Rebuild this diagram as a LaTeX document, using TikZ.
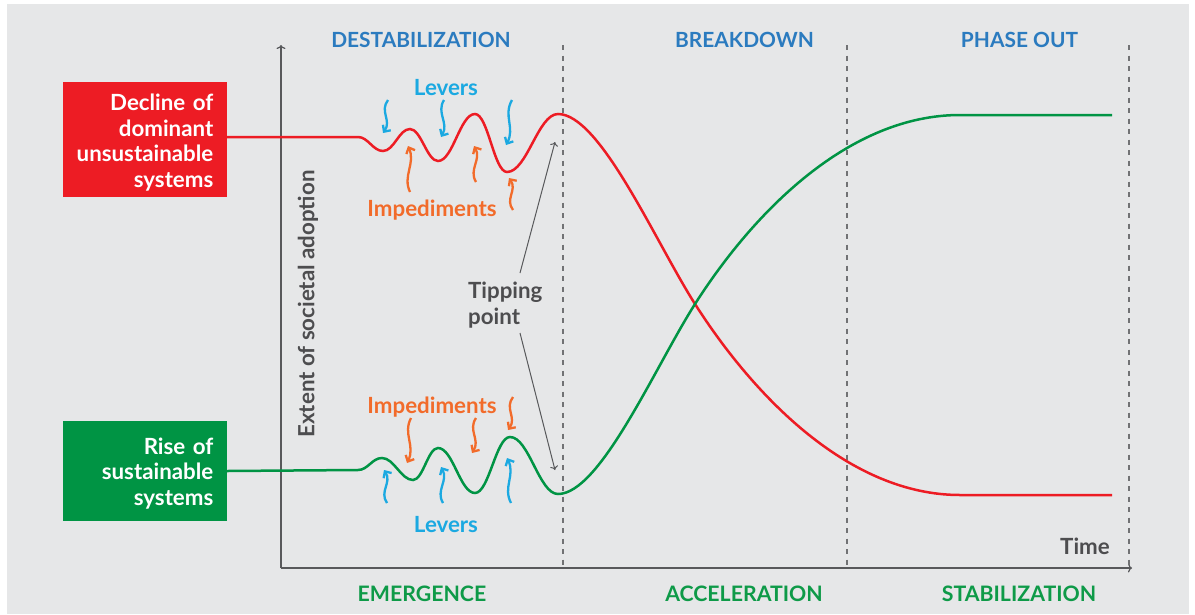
\documentclass[tikz,border=0pt]{standalone}
\usepackage{fontspec}
\setmainfont{Lato}
\usetikzlibrary{arrows.meta,calc}
\definecolor{bg}{HTML}{E6E7E8}
\definecolor{cred}{HTML}{ED1C24}
\definecolor{cgreen}{HTML}{009444}
\definecolor{hblue}{HTML}{2B7BBF}
\definecolor{bgreen}{HTML}{0E9A48}
\definecolor{lblue}{HTML}{1BA9E1}
\definecolor{orng}{HTML}{F26B2A}
\definecolor{txtgray}{HTML}{4D4D4F}
\definecolor{axgray}{HTML}{58595B}
\newcommand\wv[5]{\draw[wavyarrow,#1] (#2,#3) .. controls ($(#2,#3)!0.35!(#4,#5)+(-7,0)$) and ($(#2,#3)!0.62!(#4,#5)+(7,0)$) .. (#4,#5);}
\begin{document}
\begin{tikzpicture}[x=1pt,y=-1pt,
  font=\bfseries\fontsize{22.3}{25.5}\selectfont,
  sysbox/.style={minimum width=164pt,inner sep=0pt,anchor=center},
  systext/.style={inner sep=0pt,text width=140pt,align=right,text=white,anchor=east},
  curve/.style={line width=2.5pt},
  axis/.style={draw=axgray,line width=1.2pt,-{To[length=4pt,width=9pt]}},
  phase/.style={draw=axgray!85,line width=1.2pt,dash pattern=on 5pt off 5.5pt},
  header/.style={text=hblue,font=\bfseries\fontsize{20.9}{25}\selectfont},
  footer/.style={text=bgreen,font=\bfseries\fontsize{21.3}{25}\selectfont},
  wavyarrow/.style={line width=2.3pt,-{Straight Barb[length=5pt,width=9.5pt]}},
  tiparrow/.style={draw=axgray,line width=1pt,-{To[length=4pt,width=8pt]}}
]
\useasboundingbox (0,0) rectangle (1195,614);
\fill[bg] (7,4) rectangle (1189,614);

% axes
\coordinate (origin) at (281,568);
\coordinate (ytop) at (281,45);
\coordinate (xend) at (1132,568);
\draw[axis] (origin) -- (ytop);
\draw[axis] (origin) -- (xend);

% phase separators
\foreach \px/\nm in {563/pa,847/pb,1129/pc}{
  \coordinate (\nm t) at (\px,45);
  \coordinate (\nm b) at (\px,565);
  \draw[phase] (\nm t) -- (\nm b);
}

% boxes
\node[sysbox,fill=cred,minimum height=115pt] (redbox) at (145,139.5) {};
\node[systext] (redtxt) at (213.5,142.5) {Decline of\\dominant\\unsustainable\\systems};
\node[sysbox,fill=cgreen,minimum height=100pt] (greenbox) at (145,471) {};
\node[systext] (greentxt) at (213.5,473.5) {Rise of\\sustainable\\systems};
\coordinate (rs) at (0,137);
\coordinate (gs) at (0,471);

% red curve
\draw[curve,cred] (redbox.east |- rs) -- (358,137)
  .. controls (368,137) and (373,151) .. (383,151)
  .. controls (394,151) and (399,129) .. (410,129)
  .. controls (421,129) and (427,161) .. (438,161)
  .. controls (453,161) and (460,114) .. (475,114)
  .. controls (488,114) and (494,172) .. (507,172)
  .. controls (527,172) and (538,114) .. (558,114)
  .. controls (600,114) and (655,241) .. (695,304)
  .. controls (755,398) and (850,495) .. (960,495)
  -- (1112,495);

% green curve
\draw[curve,cgreen] (greenbox.east |- gs) -- (358,470)
  .. controls (368,470) and (372,458) .. (382,458)
  .. controls (394,458) and (401,480) .. (413,480)
  .. controls (423,480) and (428,448) .. (438,448)
  .. controls (453,448) and (460,493) .. (475,493)
  .. controls (489,493) and (496,437) .. (510,437)
  .. controls (529,437) and (539,494) .. (558,494)
  .. controls (600,494) and (655,367) .. (695,304)
  .. controls (755,210) and (850,115) .. (960,115)
  -- (1112,115);

% levers / impediments (top)
\wv{lblue}{388}{100}{383}{133}
\wv{lblue}{444}{100}{441}{137}
\wv{lblue}{512}{100}{506}{145}
\wv{orng}{410}{192}{408}{146}
\wv{orng}{476}{182}{474}{146}
\wv{orng}{513}{210}{509}{178}
% bottom
\wv{orng}{411}{418}{407}{463}
\wv{orng}{476}{418}{472}{453}
\wv{orng}{513}{397}{508}{430}
\wv{lblue}{387}{503}{384}{470}
\wv{lblue}{443}{503}{441}{467}
\wv{lblue}{511}{503}{507}{458}

\node[text=lblue] (levtop) at (446,88) {Levers};
\node[text=orng] (imptop) at (432,210) {Impediments};
\node[text=orng] (impbot) at (432,407) {Impediments};
\node[text=lblue] (levbot) at (446,525) {Levers};

% tipping point
\node[text=txtgray,align=left,anchor=west,inner sep=0pt] (tp) at (468,305) {Tipping\\point};
\coordinate (tpa) at (520,273);
\coordinate (tpb) at (520,333);
\coordinate (tpat) at (555,142);
\coordinate (tpbt) at (555,470);
\draw[tiparrow] (tpa) -- (tpat);
\draw[tiparrow] (tpb) -- (tpbt);

% headers / footers
\node[header] (h1) at (421,40) {DESTABILIZATION};
\node[header] (h2) at (744.5,40) {BREAKDOWN};
\node[header] (h3) at (1019.5,40) {PHASE OUT};
\node[footer] (f1) at (422,594) {EMERGENCE};
\node[footer] (f2) at (744,594) {ACCELERATION};
\node[footer] (f3) at (1019,594) {STABILIZATION};

% axis labels
\node[text=txtgray,rotate=90] (ylab) at (308,304) {Extent of societal adoption};
\node[text=txtgray] (tlab) at (1085,546) {Time};
\end{tikzpicture}
\end{document}
